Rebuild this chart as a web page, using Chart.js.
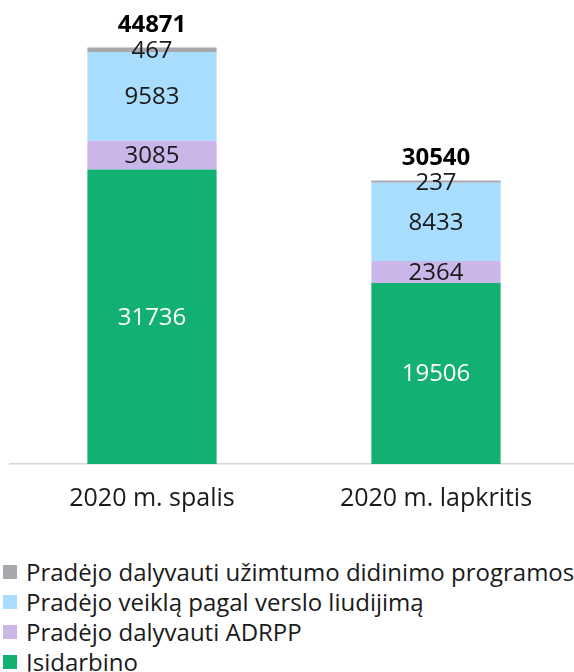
<!DOCTYPE html>
<html>
<head>
<meta charset="utf-8">
<script src="https://cdn.jsdelivr.net/npm/chart.js@4/dist/chart.umd.min.js"></script>
<style>
  html, body { margin: 0; padding: 0; background: #fff; overflow: hidden; width: 574px; height: 672px; }
  #wrap { position: relative; width: 578px; height: 542px; }
  #legend { position: absolute; left: 3px; top: 557px; width: 700px; font-family: "Open Sans", sans-serif; font-size: 24px; color: #1a1a1a; white-space: nowrap; }
  .item { height: 30px; line-height: 30px; display: flex; align-items: center; }
  .box { width: 14px; height: 14px; margin-right: 9px; flex: none; }
</style>
</head>
<body>
<div id="wrap"><canvas id="chart"></canvas></div>
<div id="legend"></div>
<script>
const categories = ['2020 m. spalis', '2020 m. lapkritis'];
const employed = [31736, 19506];
const adrpp = [3085, 2364];
const businessCert = [9583, 8433];
const programs = [467, 237];

const seriesNames = ['Įsidarbino', 'Pradėjo dalyvauti ADRPP', 'Pradėjo veiklą pagal verslo liudijimą', 'Pradėjo dalyvauti užimtumo didinimo programose'];
const seriesColors = ['#12b071', '#cbb6e9', '#a8ddfd', '#a6a8ab'];
const labelColors = ['#ffffff', '#1a1a1a', '#1a1a1a', '#1a1a1a'];

const FONT = '"Open Sans", sans-serif';

const valueLabels = {
    id: 'valueLabels',
    afterDatasetsDraw(chart) {
        const { ctx } = chart;
        ctx.save();
        ctx.textAlign = 'center';
        ctx.textBaseline = 'middle';
        ctx.font = `24px ${FONT}`;
        chart.data.datasets.forEach((ds, i) => {
            chart.getDatasetMeta(i).data.forEach((bar, j) => {
                ctx.fillStyle = labelColors[i];
                ctx.fillText(String(ds.data[j]), bar.x, (bar.y + bar.base) / 2 + 1);
            });
        });
        // totals above the stacks
        const last = chart.getDatasetMeta(chart.data.datasets.length - 1);
        ctx.font = `bold 24px ${FONT}`;
        ctx.fillStyle = '#000';
        last.data.forEach((bar, j) => {
            const total = chart.data.datasets.reduce((s, ds) => s + ds.data[j], 0);
            ctx.fillText(String(total), bar.x, bar.y - 22);
        });
        ctx.restore();
    }
};

const datasets = [employed, adrpp, businessCert, programs].map((d, i) => ({
    label: seriesNames[i], data: d, backgroundColor: seriesColors[i], borderWidth: 0,
    barPercentage: 0.91, categoryPercentage: 0.5
}));

new Chart(document.getElementById('chart'), {
    type: 'bar',
    data: { labels: categories, datasets },
    options: {
        responsive: true, maintainAspectRatio: false, animation: false,
        layout: { padding: { left: 10, right: 0, top: 0, bottom: 8 } },
        plugins: { legend: { display: false }, tooltip: { enabled: false } },
        scales: {
            x: {
                stacked: true,
                grid: { display: false, drawTicks: false },
                border: { display: true, color: '#d6d6d6', width: 1.5 },
                ticks: { color: '#1a1a1a', font: { family: FONT, size: 25 }, padding: 20 }
            },
            y: { stacked: true, display: false, min: 0, max: 50000 }
        }
    },
    plugins: [valueLabels]
});

const legend = document.getElementById('legend');
legend.innerHTML = seriesNames.map((n, i) => ({ n, c: seriesColors[i] })).reverse()
    .map(s => `<div class="item"><span class="box" style="background:${s.c}"></span>${s.n}</div>`).join('');
</script>
</body>
</html>
